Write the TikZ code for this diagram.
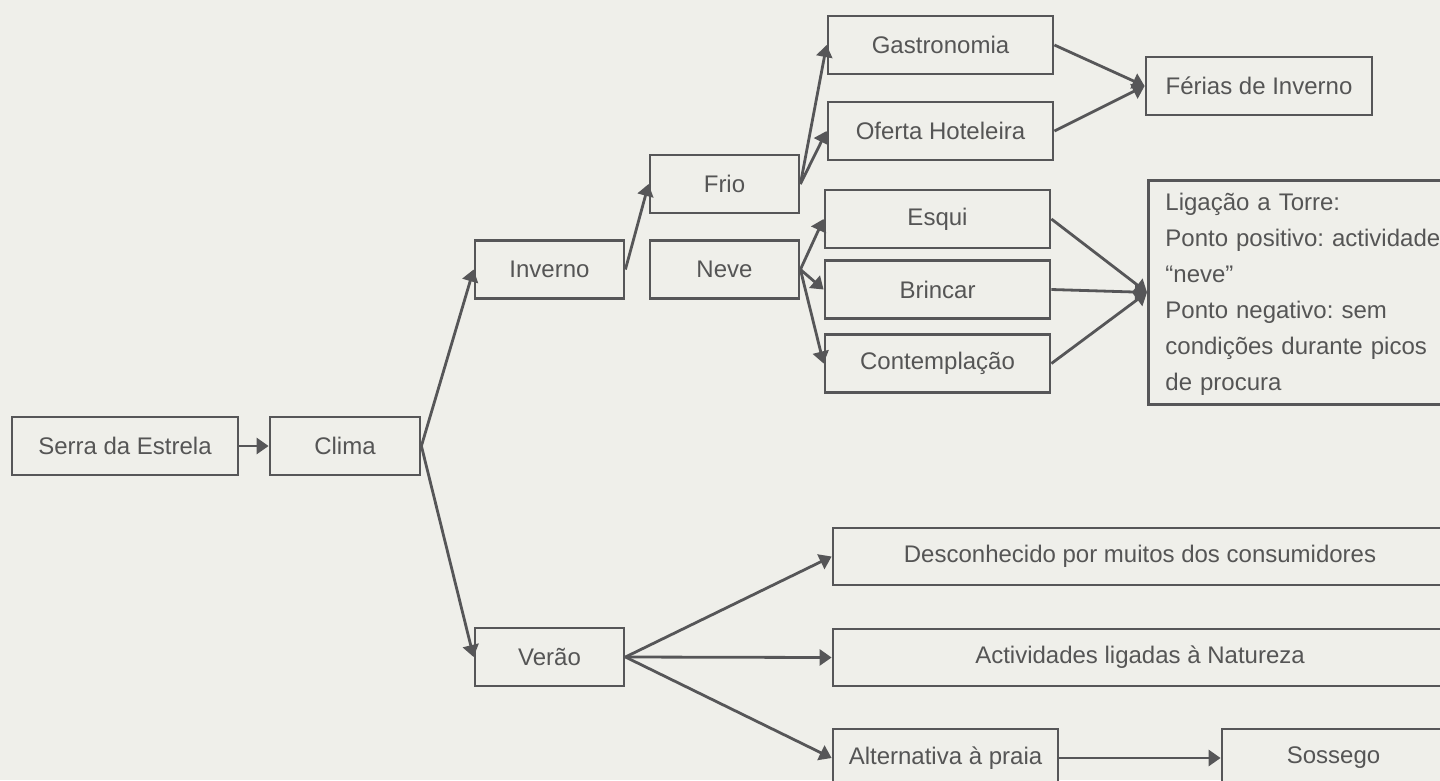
\documentclass[tikz,border=0pt]{standalone}
\usepackage{fontspec}
\setmainfont{Liberation Sans}
\usetikzlibrary{arrows.meta}
\definecolor{bgc}{RGB}{239,239,234}
\definecolor{linec}{RGB}{86,86,88}
\definecolor{textc}{RGB}{85,85,85}
\tikzset{
  box/.style={draw=linec, line width=2.8pt, fill=bgc, text=textc,
    font=\fontsize{24}{36}\selectfont, minimum height=58pt, inner sep=2pt},
  conn/.style={draw=linec, line width=2.8pt,
    -{Triangle[length=12pt,width=16pt]}},
}
\begin{document}
\frenchspacing
\begin{tikzpicture}[x=1pt,y=-1pt]
\useasboundingbox (0,0) rectangle (1440,780);
\fill[bgc] (0,0) rectangle (1440,780);
\clip (0,0) rectangle (1440,780);

\node[box, minimum width=226pt] (serra) at (125,446) {Serra da Estrela};
\node[box, minimum width=150pt] (clima) at (345,446) {Clima};
\node[box, minimum width=149pt] (inverno) at (549.5,269.5) {Inverno};
\node[box, minimum width=149pt] (verao) at (549.5,657) {Verão};
\node[box, minimum width=149pt] (frio) at (724.5,184) {Frio};
\node[box, minimum width=149pt] (neve) at (724.5,269.5) {Neve};
\node[box, minimum width=225pt] (gastro) at (940.5,45) {Gastronomia};
\node[box, minimum width=225pt] (oferta) at (940.5,131) {Oferta Hoteleira};
\node[box, minimum width=226pt] (ferias) at (1259,86) {Férias de Inverno};
\node[box, minimum width=225pt] (esqui) at (937.5,219) {Esqui};
\node[box, minimum width=225pt] (brincar) at (937.5,289.5) {Brincar};
\node[box, minimum width=225pt] (contemp) at (937.5,363.5) {Contemplação};
\node[box, anchor=north west, minimum height=224pt, text width=290pt,
  inner xsep=17pt, inner ysep=0pt, align=left] (ligacao) at (1147,179)
  {\rule{0pt}{22pt}Ligação a Torre:\\Ponto positivo: actividade\\“neve”\\Ponto negativo: sem\\condições durante picos\\de procura};
\node[box, minimum width=614pt, minimum height=57pt] (desc) at (1140,556.5) {Desconhecido por muitos dos consumidores};
\node[box, minimum width=614pt, minimum height=57pt] (activ) at (1140,657.5) {Actividades ligadas à Natureza};
\node[box, minimum width=225pt] (alt) at (945.5,758) {Alternativa à praia};
\node[box, minimum width=223pt] (sossego) at (1333.5,758) {Sossego};

\draw[conn] (serra.east) -- (clima.west);
\draw[conn] (clima.east) -- (inverno.west);
\draw[conn] (clima.east) -- (verao.west);
\draw[conn] (inverno.east) -- (frio.west);
\draw[conn] (frio.east) -- (gastro.west);
\draw[conn] (frio.east) -- (oferta.west);
\draw[conn] (neve.east) -- (esqui.west);
\draw[conn] (neve.east) -- (brincar.west);
\draw[conn] (neve.east) -- (contemp.west);
\draw[conn] (gastro.east) -- (ferias.west);
\draw[conn] (oferta.east) -- (ferias.west);
\draw[conn] (esqui.east) -- (ligacao.west);
\draw[conn] (brincar.east) -- (ligacao.west);
\draw[conn] (contemp.east) -- (ligacao.west);
\draw[conn] (verao.east) -- (desc.west);
\draw[conn] (verao.east) -- (activ.west);
\draw[conn] (verao.east) -- (alt.west);
\draw[conn] (alt.east) -- (sossego.west);
\end{tikzpicture}
\end{document}
